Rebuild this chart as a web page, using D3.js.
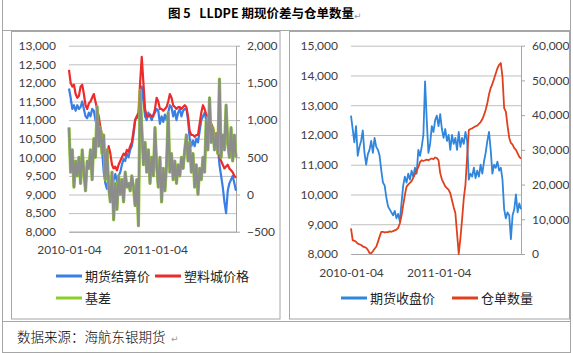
<!DOCTYPE html>
<html>
<head>
<meta charset="utf-8">
<script src="https://cdnjs.cloudflare.com/ajax/libs/d3/7.8.5/d3.min.js"></script>
<style>
  body { margin: 0; background: #fff; }
  svg { display: block; }
  .num text { font-family: Lato, "Open Sans", sans-serif; font-size: 12px; fill: #404040; }
  .cjk { font-family: "Noto Sans CJK SC", sans-serif; white-space: pre; }
</style>
</head>
<body>
<script>
// weekly samples, 2010-01-04 .. 2011-12-12
var dates = d3.timeMonday.range(new Date(2010, 0, 4), new Date(2011, 11, 13))
var tickLabels = ["2010-01-04", "2011-01-04"]

// left chart: 期货结算价 / 塑料城价格 (left axis), 基差 (right axis)
var settle = [11850,11600,11300,11400,11250,11400,11300,11350,11500,11300,
  11100,11050,11200,11100,11300,11250,11000,10800,10700,10400,
  10200,9600,9300,9150,9500,9200,9000,9400,9550,9350,
  9500,9600,9800,9950,9900,10100,10000,10200,10300,10600,
  11000,11100,11050,11400,11900,11500,11100,11000,11200,11100,
  11000,11150,11200,11300,11250,10900,11100,10950,11150,11000,
  11200,11400,11350,11100,11250,11000,11200,11300,11100,11250,
  11300,11300,11000,10500,10300,10450,10300,10500,10400,10700,
  11000,11100,11200,11000,10900,10800,10700,10500,10300,10450,
  10300,9800,9500,9200,8800,8500,9100,9300,9400,9500,
  9300,9100]
var spot = [12350,12000,11900,11950,11700,11600,11650,11900,11950,11700,
  11400,11300,11450,11500,11600,11700,11500,11300,11100,10800,
  10600,10200,10100,10000,10300,10100,9800,9700,9750,9650,
  9800,9900,10000,10100,10050,10200,10150,10300,10400,10700,
  11000,11100,11200,12000,12700,12000,11300,11100,11100,11150,
  11100,11100,11300,11600,11500,11300,11300,11250,11300,11350,
  11500,11700,11600,11400,11350,11300,11350,11350,11300,11350,
  11400,11350,11100,10700,10600,10600,10550,10600,10600,10900,
  11200,11400,11300,11150,11100,11000,10900,10800,10600,10650,
  10500,10000,9900,9800,9700,9750,9800,9700,9650,9600,
  9500,9450]
var basis = [900,300,600,100,450,250,500,150,600,300,
  50,450,350,600,200,750,500,1180,650,900,
  550,800,200,600,100,-100,300,-340,150,-200,
  250,0,200,-100,300,100,150,50,250,100,
  -150,200,-420,1400,900,400,700,300,600,150,
  500,250,900,400,100,500,-100,350,50,400,
  1100,300,550,200,450,150,400,250,500,350,
  600,800,450,700,300,550,100,400,0,350,
  200,500,300,1000,600,1300,700,900,600,800,
  550,1550,500,800,600,1200,700,500,900,450,
  800,500]

// right chart: 期货收盘价 (left axis), 仓单数量 (right axis)
var closePx = [12650,12200,11750,12300,11300,11600,11800,12150,11400,11000,
  11350,11500,11800,11400,11900,11600,11500,11300,10800,10400,
  10300,9900,9600,9500,9400,9300,9450,9200,9350,9100,
  9700,10300,10600,10400,10700,10500,10800,10600,10900,10700,
  11500,11300,11600,12000,13800,12500,11400,11700,12300,12100,
  12500,12650,12300,12700,12200,11900,12200,11800,12000,11500,
  12000,11700,11900,11500,12100,11600,11900,11700,12100,11800,
  10500,10700,10600,10900,10550,10800,10600,11000,10700,11100,
  11400,11800,12100,11500,10700,11000,10900,11100,10800,10900,
  10500,9500,9200,9400,9300,8500,9300,9500,10000,9400,
  9700,9500]
var receipts = [7400,4000,3800,3500,3000,2800,2600,2200,2000,1800,
  1200,300,200,800,1500,2100,3500,5000,6400,6400,
  6200,6300,6300,6500,6400,6600,6800,7000,7500,8800,
  11000,14000,17000,19400,20000,20500,21000,22000,23000,24000,
  25000,26500,27000,26800,27000,27200,27000,27300,27500,27300,
  27800,27600,27000,23300,21500,20500,19500,19000,18500,17500,
  15500,13500,11800,6000,0,4500,10000,16000,20000,28000,
  35700,36000,36200,36500,36800,37000,37500,38000,38800,40000,
  41500,43500,46000,47800,49000,50500,52000,53500,54500,55000,
  51000,42000,41000,37000,33500,32000,31500,30500,30000,29000,
  28000,27500]

var parse = d3.timeParse("%Y-%m-%d")
var fmt = d3.format(",")

var svg = d3.select("body").append("svg")
  .attr("width", 573).attr("height", 353)

// table frame
var frame = svg.append("g").attr("fill", "none").attr("stroke", "#a6a6a6")
frame.append("rect").attr("x", 2.5).attr("y", -2).attr("width", 568).attr("height", 354.5)
frame.append("line").attr("x1", 2).attr("x2", 571).attr("y1", 30.5).attr("y2", 30.5)
frame.append("line").attr("x1", 2).attr("x2", 571).attr("y1", 321.5).attr("y2", 321.5)
frame.append("rect").attr("x", 11.5).attr("y", 31.5).attr("width", 268.5).attr("height", 287.5)
frame.append("rect").attr("x", 289.5).attr("y", 31.5).attr("width", 280).attr("height", 287.5)

svg.append("text").attr("class", "cjk")
  .attr("x", 168).attr("y", 18).attr("font-size", 12.5).attr("font-weight", "bold")
  .attr("fill", "#000").text("图 5   LLDPE 期现价差与仓单数量")
svg.append("text").attr("x", 354).attr("y", 19).attr("font-size", 9)
  .attr("font-family", "DejaVu Sans").attr("fill", "#999").text("↵")
svg.append("text").attr("class", "cjk")
  .attr("x", 17).attr("y", 342).attr("font-size", 13.5).attr("font-weight", 300).attr("fill", "#000")
  .text("数据来源：海航东银期货")
svg.append("text").attr("x", 171).attr("y", 342).attr("font-size", 9)
  .attr("font-family", "DejaVu Sans").attr("fill", "#999").text("↵")

var drawChart = (cfg) => {
  var g = svg.append("g").attr("clip-path", cfg.clip ? "url(#" + cfg.clip + ")" : null)
  var x = d3.scaleTime().domain([dates[0], dates[dates.length - 1]]).range(cfg.xr)
  var yL = d3.scaleLinear().domain(cfg.ldom).range(cfg.yr)
  var yR = d3.scaleLinear().domain(cfg.rdom).range(cfg.yr)
  var w = cfg.xr[1] - cfg.xr[0]

  // gridlines
  g.append("g").attr("transform", "translate(" + cfg.xr[0] + ",0)")
    .call(d3.axisLeft(yL).tickValues(cfg.lticks).tickSize(-w).tickFormat(""))
    .call(a => a.select(".domain").remove())
    .call(a => a.selectAll("line").attr("stroke", "#bfbfbf"))
  // left labels
  g.append("g").attr("class", "num").attr("transform", "translate(" + cfg.xr[0] + ",0)")
    .call(d3.axisLeft(yL).tickValues(cfg.lticks).tickSize(0).tickPadding(13).tickFormat(fmt))
    .call(a => a.select(".domain").remove())
  // right axis
  g.append("g").attr("class", "num").attr("transform", "translate(" + cfg.xr[1] + ",0)")
    .call(d3.axisRight(yR).tickValues(cfg.rticks).tickSize(4).tickPadding(7).tickFormat(fmt).tickSizeOuter(0))
    .call(a => a.selectAll("line,.domain").attr("stroke", "#a6a6a6"))
  // bottom axis
  g.append("g").attr("class", "num").attr("transform", "translate(0," + cfg.yr[0] + ")")
    .call(d3.axisBottom(x).tickValues(tickLabels.map(parse)).tickSize(0).tickPadding(14)
      .tickFormat(d3.timeFormat("%Y-%m-%d")))
    .call(a => a.select(".domain").attr("stroke", "#a6a6a6"))

  cfg.series.forEach(s => {
    var ys = s.axis == "r" ? yR : yL
    var line = d3.line().x((d, i) => x(dates[i])).y(d => ys(d))
    s.strokes.forEach(st => {
      g.append("path").datum(s.values).attr("d", line)
        .attr("fill", "none").attr("stroke", st[0]).attr("stroke-width", st[1])
        .attr("stroke-linejoin", "round")
    })
  })

  // legend
  cfg.legend.forEach(l => {
    svg.append("line").attr("x1", l[0]).attr("x2", l[0] + 26).attr("y1", l[1]).attr("y2", l[1])
      .attr("stroke", l[2]).attr("stroke-width", 3)
    svg.append("text").attr("class", "cjk").attr("x", l[0] + 29).attr("y", l[1])
      .attr("dy", "0.36em").attr("font-size", 13).attr("fill", "#222").text(l[3])
  })
}

svg.append("clipPath").attr("id", "clipR").append("rect")
  .attr("x", 290).attr("y", 32).attr("width", 279).attr("height", 286)

drawChart({
  xr: [69, 236], yr: [231.7, 45.7],
  ldom: [8000, 13000], rdom: [-500, 2000],
  lticks: d3.range(8000, 13001, 500), rticks: d3.range(-500, 2001, 500),
  series: [
    { values: settle, axis: "l", strokes: [["#3a7ee6", 2.2]] },
    { values: spot, axis: "l", strokes: [["#ee2a2a", 2.2]] },
    { values: basis, axis: "r", strokes: [["#8dcf2a", 3.2], ["#8c8c8c", 2.2]] }
  ],
  legend: [[56, 276, "#3a7ee6", "期货结算价"], [155, 276, "#ee2a2a", "塑料城价格"], [56, 298, "#8dcf2a", "基差"]]
})

drawChart({
  clip: "clipR",
  xr: [351, 521], yr: [254, 45.7],
  ldom: [8000, 15000], rdom: [0, 60000],
  lticks: d3.range(8000, 15001, 1000), rticks: d3.range(0, 60001, 10000),
  series: [
    { values: closePx, axis: "l", strokes: [["#2f86dc", 1.8]] },
    { values: receipts, axis: "r", strokes: [["#e0401c", 1.8]] }
  ],
  legend: [[341, 298, "#2f86dc", "期货收盘价"], [452, 298, "#e0401c", "仓单数量"]]
})
</script>
</body>
</html>
